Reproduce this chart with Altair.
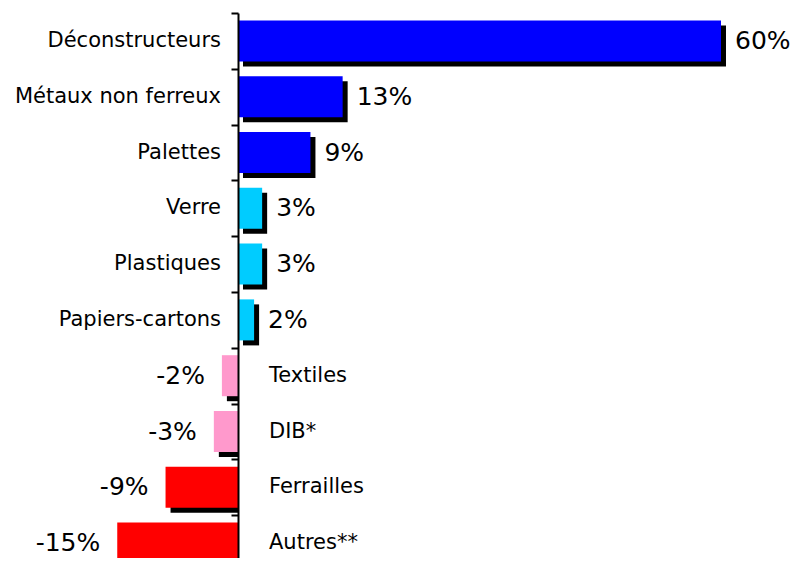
import altair as alt
import pandas as pd

categories = ["Déconstructeurs", "Métaux non ferreux", "Palettes", "Verre", "Plastiques",
              "Papiers-cartons", "Textiles", "DIB*", "Ferrailles", "Autres**"]
values = [60, 13, 9, 3, 3, 2, -2, -3, -9, -15]
value_labels = ["60%", "13%", "9%", "3%", "3%", "2%", "-2%", "-3%", "-9%", "-15%"]
colors = ["#0000FF", "#0000FF", "#0000FF", "#00CCFF", "#00CCFF", "#00CCFF",
          "#FF99CC", "#FF99CC", "#FF0000", "#FF0000"]

df = pd.DataFrame({"cat": categories, "val": values, "lab": value_labels, "col": colors})

FONT = "DejaVu Sans"
x_scale = alt.Scale(domain=[-28.571, 68.696], nice=False, zero=False)
y_scale = alt.Scale(domain=categories, range=[5, 563], paddingInner=0, paddingOuter=0)

x_enc = alt.X("val:Q", scale=x_scale, axis=None)
y_enc = alt.Y("cat:N", scale=y_scale, sort=categories,
              axis=alt.Axis(labels=False, title=None, domain=True, domainColor="black",
                            domainWidth=2, ticks=True, tickColor="black", tickWidth=2,
                            tickSize=7, tickBand="extent", offset=-230, zindex=1, grid=False))

base = alt.Chart(df)
pos = base.transform_filter("datum.val >= 0")
neg = base.transform_filter("datum.val < 0")

shadow_pos = pos.mark_bar(color="black", height={"band": 0.735}, xOffset=5, x2Offset=5,
                          yOffset=5, y2Offset=5).encode(x=x_enc, x2=alt.datum(0), y=y_enc)
shadow_neg = neg.mark_bar(color="black", height={"band": 0.735}, xOffset=5,
                          yOffset=5, y2Offset=5).encode(x=x_enc, x2=alt.datum(0), y=y_enc)
bars = base.mark_bar(height={"band": 0.735}).encode(
    x=x_enc, x2=alt.datum(0), y=y_enc, color=alt.Color("col:N", scale=None))

val_pos = pos.mark_text(align="left", baseline="middle", dx=14, font=FONT, fontSize=25,
                        color="black").encode(x=x_enc, y=y_enc, text="lab:N")
val_neg = neg.mark_text(align="right", baseline="middle", dx=-17, font=FONT, fontSize=25,
                        color="black").encode(x=x_enc, y=y_enc, text="lab:N")
cat_pos = pos.mark_text(align="right", baseline="middle", dx=-17, font=FONT, fontSize=21,
                        color="black").encode(x=alt.datum(0, scale=x_scale), y=y_enc, text="cat:N")
cat_neg = neg.mark_text(align="left", baseline="middle", dx=31, font=FONT, fontSize=21,
                        color="black").encode(x=alt.datum(0, scale=x_scale), y=y_enc, text="cat:N")

chart = alt.layer(shadow_pos, shadow_neg, bars, val_pos, val_neg, cat_pos, cat_neg).properties(
    width=783, height=550, autosize=alt.AutoSizeParams(type="none"), padding=0
).configure_view(stroke=None)

chart.save("out.html", embed_options={"renderer": "svg", "actions": False})
